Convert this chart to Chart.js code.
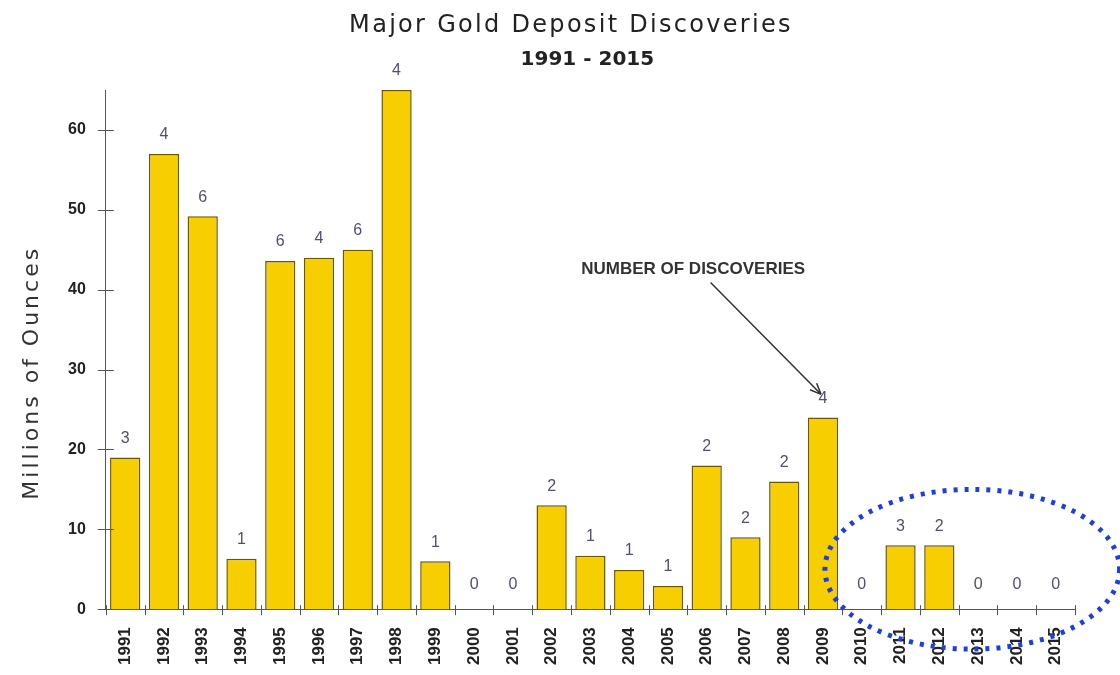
<!DOCTYPE html>
<html>
<head>
<meta charset="utf-8">
<title>Major Gold Deposit Discoveries</title>
<script src="https://cdn.jsdelivr.net/npm/chart.js@4.4.1/dist/chart.umd.min.js"></script>
<style>
  html, body { margin: 0; padding: 0; background: #fff; }
  canvas { display: block; }
</style>
</head>
<body>
<canvas id="grafico" width="1120" height="675"></canvas>
<script>
// dados
const anos = ['1991','1992','1993','1994','1995','1996','1997','1998','1999','2000',
              '2001','2002','2003','2004','2005','2006','2007','2008','2009','2010',
              '2011','2012','2013','2014','2015'];
const milhoesOncas = [19, 57, 49.2, 6.3, 43.6, 44, 45, 65, 6, 0,
                      0, 13, 6.7, 4.9, 2.9, 18, 9, 16, 24, 0,
                      8, 8, 0, 0, 0];
const descobertas = [3, 4, 6, 1, 6, 4, 6, 4, 1, 0,
                     0, 2, 1, 1, 1, 2, 2, 2, 4, 0,
                     3, 2, 0, 0, 0];
const yTicks = [0, 10, 20, 30, 40, 50, 60];

const titulo = 'Major Gold Deposit Discoveries';
const subtitulo = '1991 - 2015';
const tituloY = 'Millions of Ounces';
const anotacao = 'NUMBER OF DISCOVERIES';

const corEixo = '#555';

// títulos com espaçamento entre letras (o Chart.js não tem essa opção)
const titulos = {
  id: 'titulos',
  afterDraw(chart) {
    const ctx = chart.ctx;
    const area = chart.chartArea;
    const y = chart.scales.y;
    ctx.save();
    ctx.fillStyle = '#222';
    ctx.textAlign = 'center';
    ctx.textBaseline = 'alphabetic';

    ctx.letterSpacing = '2.3px';
    ctx.font = '24px "DejaVu Sans", Verdana, sans-serif';
    ctx.fillText(titulo, chart.width / 2 + 11, 32);

    ctx.letterSpacing = '0px';
    ctx.font = 'bold 20px "DejaVu Sans", Verdana, sans-serif';
    ctx.fillText(subtitulo, (area.left + area.right) / 2 - 3, 65);

    ctx.letterSpacing = '3px';
    ctx.fillStyle = '#333';
    ctx.font = '22px "DejaVu Sans", Verdana, sans-serif';
    ctx.translate(38, y.getPixelForValue(29.6));
    ctx.rotate(-Math.PI / 2);
    ctx.fillText(tituloY, 0, 0);
    ctx.restore();
  }
};

// rótulos com o número de descobertas, anotação e elipse
const extras = {
  id: 'extras',
  afterDatasetsDraw(chart) {
    const ctx = chart.ctx;
    const x = chart.scales.x;
    const y = chart.scales.y;
    const meta = chart.getDatasetMeta(0);

    ctx.save();
    // marcas dos eixos (cruzando a linha)
    ctx.strokeStyle = corEixo;
    ctx.lineWidth = 1;
    ctx.beginPath();
    yTicks.forEach(v => {
      const py = Math.round(y.getPixelForValue(v)) + 0.5;
      ctx.moveTo(x.left - 8, py);
      ctx.lineTo(x.left + 8, py);
    });
    for (let i = 0; i <= anos.length; i++) {
      const px = Math.round(x.getPixelForValue(i - 0.5)) + 0.5;
      ctx.moveTo(px, y.bottom - 4);
      ctx.lineTo(px, y.bottom + 6);
    }
    ctx.stroke();

    // número de descobertas
    ctx.font = '16px "Liberation Sans", Arial, sans-serif';
    ctx.fillStyle = '#505070';
    ctx.textAlign = 'center';
    ctx.textBaseline = 'middle';
    meta.data.forEach((bar, i) => {
      const off = milhoesOncas[i] === 0 ? 25 : 19;
      ctx.fillText(String(descobertas[i]), bar.x, bar.y - off);
    });

    // anotação
    ctx.font = 'bold 17px "Liberation Sans", Arial, sans-serif';
    ctx.fillStyle = '#333';
    ctx.fillText(anotacao, x.getPixelForValue(14.65), y.getPixelForValue(42.5));

    const x1 = x.getPixelForValue(15.1), y1 = y.getPixelForValue(40.9);
    const x2 = x.getPixelForValue(17.95), y2 = y.getPixelForValue(26.9);
    ctx.strokeStyle = '#333';
    ctx.lineWidth = 1.5;
    ctx.beginPath();
    ctx.moveTo(x1, y1);
    ctx.lineTo(x2, y2);
    const ang = Math.atan2(y2 - y1, x2 - x1);
    ctx.moveTo(x2, y2);
    ctx.lineTo(x2 - 12 * Math.cos(ang - 0.4), y2 - 12 * Math.sin(ang - 0.4));
    ctx.moveTo(x2, y2);
    ctx.lineTo(x2 - 12 * Math.cos(ang + 0.4), y2 - 12 * Math.sin(ang + 0.4));
    ctx.stroke();

    // elipse pontilhada
    const cx = x.getPixelForValue(21.85);
    const cy = y.getPixelForValue(5);
    const rx = x.getPixelForValue(21.85 + 3.8) - cx;
    const ry = y.getPixelForValue(-5) - cy;
    ctx.strokeStyle = '#1e3fe0';
    ctx.lineWidth = 5;
    ctx.setLineDash([4, 7]);
    ctx.beginPath();
    ctx.ellipse(cx, cy, rx, ry, 0, 0, Math.PI * 2);
    ctx.stroke();
    ctx.restore();
  }
};

const ctx = document.getElementById('grafico').getContext('2d');
window.grafico = new Chart(ctx, {
  type: 'bar',
  data: {
    labels: anos,
    datasets: [{
      label: tituloY,
      data: milhoesOncas,
      backgroundColor: '#F7CE00',
      borderColor: '#6b5800',
      borderWidth: 1.5,
      barPercentage: 0.78,
      categoryPercentage: 1,
      clip: false
    }]
  },
  options: {
    responsive: false,
    animation: false,
    layout: { padding: { top: 90, left: 56, right: 45, bottom: 0 } },
    plugins: {
      legend: { display: false },
      tooltip: { enabled: false },
      title: { display: false }
    },
    scales: {
      x: {
        grid: { display: false },
        border: { display: true, color: corEixo, width: 1 },
        ticks: {
          autoSkip: false,
          maxRotation: 90,
          minRotation: 90,
          padding: 10,
          color: '#222',
          font: { family: '"Liberation Sans", Arial, sans-serif', size: 17, weight: 'bold' }
        }
      },
      y: {
        min: 0,
        max: 65,
        grid: { display: false },
        border: { display: true, color: corEixo, width: 1 },
        ticks: {
          stepSize: 10,
          includeBounds: false,
          padding: 12,
          color: '#222',
          font: { family: '"Liberation Sans", Arial, sans-serif', size: 16, weight: 'bold' }
        }
      }
    }
  },
  plugins: [extras, titulos]
});
</script>
</body>
</html>
